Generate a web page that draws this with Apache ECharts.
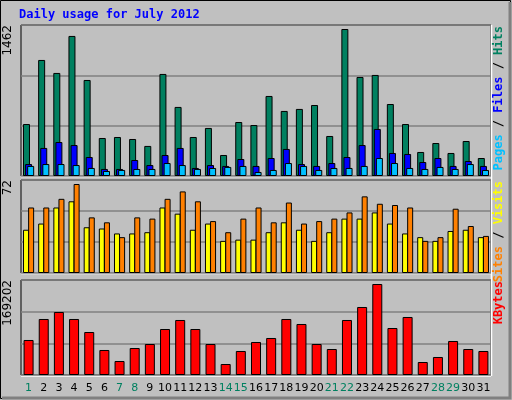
<!DOCTYPE html>
<html><head><meta charset="utf-8">
<script src="https://cdn.jsdelivr.net/npm/echarts@6/dist/echarts.min.js"></script>
<style>html,body{margin:0;padding:0;background:#c0c0c0}#c{width:512px;height:400px}</style>
</head><body><div id="c"></div>
<script>
const days = ['1','2','3','4','5','6','7','8','9','10','11','12','13','14','15','16','17','18','19','20','21','22','23','24','25','26','27','28','29','30','31'];
const weekendDays = ['1','7','8','14','15','21','22','28','29'];
const hits = [517,1154,1025,1393,955,378,388,368,299,1015,687,388,478,209,537,507,796,647,667,706,398,1462,985,1005,716,517,239,328,229,348,179];
const files = [119,279,338,308,189,70,70,159,109,209,279,80,109,100,169,100,179,269,119,100,129,189,308,468,229,219,139,179,100,149,100];
const pages = [100,119,119,109,80,50,60,70,70,129,109,70,80,90,100,40,60,129,100,60,80,80,100,179,129,80,70,90,70,119,60];
const visits = [53,53,60,72,45,41,29,45,44,60,66,58,42,33,44,53,41,57,40,42,44,49,62,56,55,53,26,29,52,38,30];
const sites = [35,40,53,58,37,36,32,32,33,53,48,35,40,26,27,27,33,41,35,26,33,44,44,49,40,32,29,26,34,35,29];
const kbytes = [65080,104130,117140,104130,79950,46490,26030,50200,57640,85530,102270,85530,57640,20450,44630,61360,68800,104130,94830,57640,48340,102270,126440,169202,87390,107850,24170,33470,63220,48340,44630];
const maxLabels = ['1462','72','169202'];

const mono = 'DejaVu Sans Mono';
const grids = [
  {left:21,right:21,top:25,height:151},
  {left:21,right:21,top:180,height:93},
  {left:21,right:21,top:280,height:95}
];
const maxes = [1462*151/147, 72*93/89, 169202*95/91];
function yAx(i){return {gridIndex:i,type:'value',min:0,max:maxes[i],interval:maxes[i]/3,
  axisLabel:{show:false},axisLine:{show:false},axisTick:{show:false},
  splitLine:{lineStyle:{color:'#808080',width:1.5}}};}
function xAx(i){return {gridIndex:i,type:'category',data:days,
  axisLine:{show:false},axisTick:{show:false},
  axisLabel:i===2?{show:true,fontFamily:'DejaVu Sans',fontSize:11,margin:8,interval:0,
    color:(v)=>weekendDays.includes(v)?'#008060':'#000'}:{show:false},
  splitLine:{show:false}};}
const bs = {borderColor:'#000',borderWidth:1};
const chart = echarts.init(document.getElementById('c'));
function vtext(x,y,parts){
  return {type:'text',x:x,y:y,rotation:Math.PI/2,style:{rich:{a:{fill:parts[0][1]},b:{fill:'#000'},c:{fill:parts[1][1]},d:{fill:parts[2]?parts[2][1]:'#000'}},
    text:parts.map((p,i)=>'{'+['a','c','d'][i]+'|'+p[0]+'}').join('{b| / }'),font:'bold 12px '+mono,textAlign:'right',textVerticalAlign:'middle'}};
}
chart.setOption({
  animation:false,
  backgroundColor:'#c0c0c0',
  grid:grids.map(g=>Object.assign({show:true,borderColor:'#000',borderWidth:1,backgroundColor:'transparent'},g)),
  xAxis:[xAx(0),xAx(1),xAx(2)],
  yAxis:[yAx(0),yAx(1),yAx(2)],
  series:[
    {type:'bar',xAxisIndex:0,yAxisIndex:0,data:hits,barWidth:7,barGap:'-70%',itemStyle:Object.assign({color:'#008060'},bs)},
    {type:'bar',xAxisIndex:0,yAxisIndex:0,data:files,barWidth:7,barGap:'-70%',itemStyle:Object.assign({color:'#0000ff'},bs)},
    {type:'bar',xAxisIndex:0,yAxisIndex:0,data:pages,barWidth:7,barGap:'-70%',itemStyle:Object.assign({color:'#00c0ff'},bs)},
    {type:'bar',xAxisIndex:1,yAxisIndex:1,data:sites,barWidth:6,barGap:'-15%',itemStyle:Object.assign({color:'#ffff00'},bs)},
    {type:'bar',xAxisIndex:1,yAxisIndex:1,data:visits,barWidth:6,barGap:'-15%',itemStyle:Object.assign({color:'#ff8000'},bs)},
    {type:'bar',xAxisIndex:2,yAxisIndex:2,data:kbytes,barWidth:10,itemStyle:Object.assign({color:'#ff0000'},bs)}
  ],
  graphic:[
    {type:'rect',shape:{x:0.5,y:0.5,width:510,height:398},style:{fill:'none',stroke:'#000',lineWidth:1},silent:true},
    {type:'polyline',shape:{points:[[2,398],[510,398],[510,2]]},style:{stroke:'#808080',lineWidth:3,fill:'none'},silent:true},
    {type:'line',shape:{x1:21,y1:176.5,x2:491,y2:176.5},style:{stroke:'#fff',lineWidth:1.5}},
    {type:'line',shape:{x1:21,y1:273.5,x2:491,y2:273.5},style:{stroke:'#fff',lineWidth:1.5}},
    {type:'line',shape:{x1:21,y1:376,x2:491,y2:376},style:{stroke:'#fff',lineWidth:1.5}},
    {type:'line',shape:{x1:491.5,y1:25,x2:491.5,y2:376},style:{stroke:'#fff',lineWidth:1.5}},
    {type:'text',x:19,y:9,style:{text:'Daily usage for July 2012',font:'bold 12px '+mono,fill:'#0000ff'}},
    {type:'text',x:8,y:25,rotation:Math.PI/2,style:{text:maxLabels[0],font:'12px DejaVu Sans',fill:'#000',textAlign:'right',textVerticalAlign:'middle'}},
    {type:'text',x:8,y:180,rotation:Math.PI/2,style:{text:maxLabels[1],font:'12px DejaVu Sans',fill:'#000',textAlign:'right',textVerticalAlign:'middle'}},
    {type:'text',x:8,y:280,rotation:Math.PI/2,style:{text:maxLabels[2],font:'12px DejaVu Sans',fill:'#000',textAlign:'right',textVerticalAlign:'middle'}},
    vtext(499,26,[['Pages','#00c0ff'],['Files','#0000ff'],['Hits','#008060']]),
    vtext(499,181,[['Sites','#ff8000'],['Visits','#ffff00']]),
    {type:'text',x:499,y:281,rotation:Math.PI/2,style:{text:'KBytes',font:'bold 12px '+mono,fill:'#ff0000',textAlign:'right',textVerticalAlign:'middle'}}
  ]
});
</script></body></html>
